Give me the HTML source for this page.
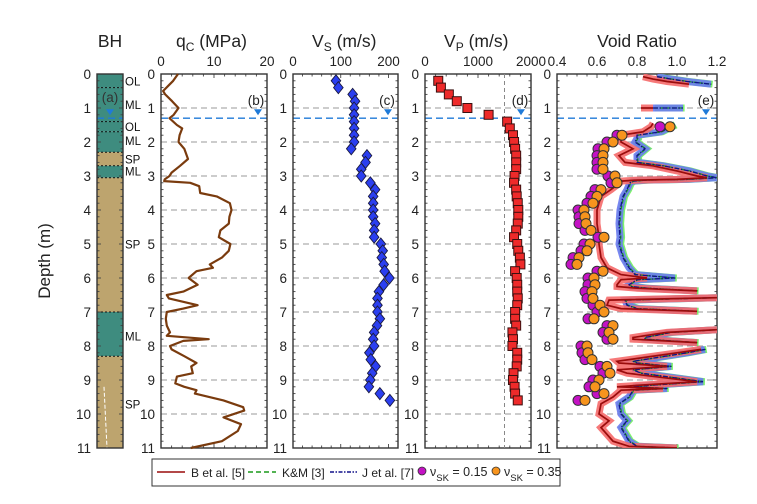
<!DOCTYPE html>
<html><head><meta charset="utf-8"><style>
html,body{margin:0;padding:0;background:#fff;}
svg{display:block;font-family:"Liberation Sans",Arial,sans-serif;}
</style></head><body>
<svg id="chart" width="757" height="504" viewBox="0 0 757 504" xmlns="http://www.w3.org/2000/svg">
<defs>
<clipPath id="clipVoid"><rect x="557" y="74" width="160" height="374"/></clipPath>
</defs>
<g id="root"></g>
</svg>
<script>
// ---------- data ----------
const layerTops = [0, 0.4, 1.4, 1.7, 2.3, 2.7, 3.05, 7.0, 8.3];
const layerBottoms = [0.4, 1.4, 1.7, 2.3, 2.7, 3.05, 7.0, 8.3, 11];
const layerTypes = ["OL", "ML", "OL", "ML", "SP", "ML", "SP", "ML", "SP"];
const layerLabelDepths = [0.2, 0.9, 1.55, 1.95, 2.5, 2.85, 5.0, 7.7, 9.7];

const qcDepths = [0,0.2,0.5,0.6,0.8,1.0,1.2,1.3,1.5,1.6,1.8,2.0,2.2,2.5,2.7,2.9,3.0,3.1,3.15,3.2,3.3,3.5,3.6,3.8,4.0,4.2,4.4,4.6,4.8,5.0,5.2,5.4,5.6,5.7,5.8,6.0,6.2,6.4,6.5,6.6,6.8,6.9,7.0,7.2,7.4,7.6,7.7,7.8,7.85,8.0,8.1,8.3,8.5,8.6,8.8,8.9,9.1,9.2,9.3,9.4,9.6,9.8,9.9,10.1,10.3,10.5,10.8,11.0];
const qcValues = [3.2,2.3,0.4,0.8,2.1,3.3,2.4,1.6,3.0,4.0,3.5,3.3,4.4,5.1,3.6,2.0,1.6,0.7,0.6,5.5,7.2,7.4,10.5,13.0,13.3,12.9,12.8,11.2,10.9,13.1,12.8,11.5,9.2,9.8,6.7,5.2,6.9,4.2,1.1,1.5,6.9,4.2,1.1,0.9,1.1,1.7,1.1,9.0,4.2,1.7,2.0,4.4,6.7,5.7,6.0,3.0,2.7,4.4,6.7,6.4,11.8,15.5,15.7,11.8,15.1,14.5,11.5,5.6];

const vsDepths = [0.2,0.4,0.6,0.8,1.0,1.2,1.4,1.6,1.8,2.0,2.2,2.4,2.6,2.8,3.0,3.2,3.4,3.6,3.8,4.0,4.2,4.4,4.6,4.8,5.0,5.2,5.4,5.6,5.8,6.0,6.2,6.4,6.6,6.8,7.0,7.2,7.4,7.6,7.8,8.0,8.2,8.4,8.6,8.8,9.0,9.2,9.4,9.6];
const vsValues = [90,95,125,130,128,128,128,128,128,128,122,155,152,143,143,162,172,168,168,168,168,172,170,170,184,188,186,190,192,202,190,180,177,177,177,182,176,170,168,170,160,163,173,166,162,159,182,203];

const vpDepths = vsDepths;
const vpValues = [250,300,450,600,800,1200,1550,1600,1660,1680,1700,1720,1720,1720,1690,1680,1720,1730,1750,1760,1760,1750,1720,1680,1740,1760,1790,1800,1700,1730,1740,1740,1750,1740,1700,1700,1720,1650,1660,1650,1740,1740,1730,1670,1660,1690,1700,1750];

const voidDepths = [0.08,0.15,0.22,0.3,null,1.0,1.0,null,1.45,1.55,1.7,1.8,1.9,2.0,2.2,2.4,2.6,2.7,2.85,3.0,3.05,3.1,3.12,3.15,3.2,3.4,3.6,4.0,4.4,4.8,5.0,5.4,5.7,5.9,6.0,6.05,6.2,6.25,6.3,6.38,null,6.58,6.65,6.8,6.9,6.98,null,7.52,7.6,7.75,7.8,7.9,null,8.1,8.2,8.45,8.5,8.6,8.7,8.8,9.05,9.15,9.2,9.25,9.3,9.5,9.7,10.0,10.2,10.4,10.8,10.95,11.0];
const voidB = [0.83,0.88,0.95,1.06,null,0.82,0.88,null,0.88,0.87,0.83,0.72,0.72,0.72,0.78,0.71,0.74,0.88,1.0,1.1,1.15,1.0,0.80,0.72,0.715,0.67,0.62,0.60,0.60,0.61,0.61,0.62,0.65,0.72,0.85,0.72,0.70,0.70,0.80,1.10,null,1.2,0.66,0.65,0.72,1.10,null,1.2,0.95,0.78,0.78,1.10,null,1.12,1.0,0.70,0.71,0.95,0.70,0.75,1.10,0.82,0.70,0.93,0.72,0.68,0.62,0.61,0.66,0.62,0.68,0.76,1.0];
const voidJ = [0.90,0.97,1.05,1.17,null,0.88,1.03,null,0.96,0.97,0.92,0.80,0.80,0.79,0.84,0.80,0.80,0.93,1.06,1.15,1.2,1.05,0.85,0.78,0.765,0.75,0.73,0.715,0.71,0.715,0.71,0.73,0.76,0.79,0.99,0.80,0.76,0.77,0.85,1.10,null,1.2,0.74,0.75,0.80,1.10,null,1.2,0.97,0.84,0.84,1.10,null,1.14,1.05,0.78,0.80,0.97,0.78,0.82,1.13,0.88,0.78,0.95,0.78,0.76,0.71,0.72,0.75,0.72,0.76,0.80,1.0];

const dotDepths = [1.55,1.8,2.0,2.2,2.4,2.6,2.8,3.0,3.2,3.4,3.6,3.8,4.0,4.2,4.4,4.6,4.8,5.0,5.2,5.4,5.6,5.8,6.0,6.2,6.4,6.6,6.8,7.0,7.2,7.4,7.6,7.8,8.0,8.2,8.4,8.6,8.8,9.0,9.2,9.4,9.6];
const dotNu15 = [0.915,0.70,0.65,0.605,0.60,0.60,0.60,0.655,0.67,0.59,0.57,0.55,0.505,0.51,0.51,0.54,0.605,0.535,0.52,0.48,0.47,0.60,0.555,0.555,0.54,0.55,0.58,0.60,0.555,0.65,0.63,0.65,0.52,0.525,0.54,0.615,0.63,0.58,0.56,0.60,0.505];
const dotNu35 = [0.965,0.725,0.68,0.635,0.63,0.63,0.63,0.69,0.70,0.62,0.60,0.58,0.535,0.54,0.545,0.57,0.635,0.565,0.55,0.51,0.50,0.63,0.585,0.59,0.575,0.58,0.615,0.635,0.585,0.68,0.66,0.68,0.55,0.555,0.575,0.65,0.665,0.61,0.59,0.635,0.54];

const waterDepth = 1.3;
const qcTicks = [0,10,20];
const vsTicks = [0,100,200];
const vpTicks = [0,1000,2000];
const voidTicks = [0.4,0.6,0.8,1.0,1.2];
const depthTicks = [0,1,2,3,4,5,6,7,8,9,10,11];

// ---------- helpers ----------
const NS = "http://www.w3.org/2000/svg";
const root = document.getElementById("root");
function mk(tag, attrs, parent, name, inter) {
  const el = document.createElementNS(NS, tag);
  for (const k in attrs) el.setAttribute(k, attrs[k]);
  
  
  (parent || root).appendChild(el);
  return el;
}
function txt(x, y, s, attrs, name, parent) {
  const t = mk("text", Object.assign({x: x, y: y, fill: "#222", "font-size": 13}, attrs || {}), parent, name, false);
  t.textContent = s;
  return t;
}
const Y = d => 74 + d * 34;
const yTop = 74, yBot = 448;
function lin(d0, d1, r0, r1) { return v => r0 + (v - d0) / (d1 - d0) * (r1 - r0); }

const panels = {
  bh: {x0: 97, x1: 123},
  qc: {x0: 161, x1: 267, s: lin(0, 20, 161, 267), ticks: qcTicks, minor: 2, dmin: 0, dmax: 20},
  vs: {x0: 293, x1: 398, s: lin(0, 220, 293, 398), ticks: vsTicks, minor: 20, dmin: 0, dmax: 220},
  vp: {x0: 425, x1: 531, s: lin(0, 2000, 425, 531), ticks: vpTicks, minor: 200, dmin: 0, dmax: 2000},
  vr: {x0: 557, x1: 717, s: lin(0.4, 1.2, 557, 717), ticks: voidTicks, minor: 0.05, dmin: 0.4, dmax: 1.2}
};

function frame(key, p) {
  const g = mk("g", {}, root, key + "-axes", false);
  for (let d = 0; d <= 11.001; d += 0.2) {
    const y = Y(d);
    const major = Math.abs(d - Math.round(d)) < 1e-6;
    const L = major ? 4 : 2.5;
    mk("line", {x1: p.x0, x2: p.x0 + L, y1: y, y2: y, stroke: "#444", "stroke-width": 0.9}, g, "depth-tick", false);
    mk("line", {x1: p.x1, x2: p.x1 - L, y1: y, y2: y, stroke: "#444", "stroke-width": 0.9}, g, "depth-tick", false);
  }
  depthTicks.forEach(d => {
    txt(p.x0 - 6, Y(d) + 5, String(d), {"text-anchor": "end", "font-size": 13.5}, "depth-tick-label", g);
    if (key !== "bh" && d > 0 && d < 11) {
      mk("line", {x1: p.x0, x2: p.x1, y1: Y(d), y2: Y(d), stroke: "#9a9a9a", "stroke-width": 1, "stroke-dasharray": "6,4"}, g, "depth-gridline", false);
    }
  });
  if (p.s) {
    for (let v = p.dmin; v <= p.dmax + 1e-6; v += p.minor) {
      const x = p.s(v);
      const isMajor = p.ticks.some(t => Math.abs(t - v) < 1e-6);
      mk("line", {x1: x, x2: x, y1: yTop, y2: yTop + (isMajor ? 4 : 2.5), stroke: "#444", "stroke-width": 0.9}, g, "x-tick", false);
      mk("line", {x1: x, x2: x, y1: yBot, y2: yBot - (isMajor ? 4 : 2.5), stroke: "#444", "stroke-width": 0.9}, g, "x-tick", false);
    }
    p.ticks.forEach(t => {
      let s = (key === "vr") ? t.toFixed(1) : String(t);
      txt(p.s(t), 66, s, {"text-anchor": "middle", "font-size": 13.5}, "x-tick-label", g);
    });
  }
  mk("line", {x1: p.x0, x2: p.x1, y1: Y(waterDepth), y2: Y(waterDepth), stroke: "#1f7ad8", "stroke-width": 1.3, "stroke-dasharray": "7,4"}, g, "water-table-line", false);
  return g;
}

// ---------- BH column ----------
for (let i = 0; i < layerTypes.length; i++) {
  const fill = layerTypes[i] === "SP" ? "#bda46e" : "#3e8c7f";
  mk("rect", {x: 97, y: Y(layerTops[i]), width: 26, height: Y(layerBottoms[i]) - Y(layerTops[i]), fill: fill}, root, "soil-layer-" + layerTypes[i].toLowerCase(), false);
  if (i > 0) mk("line", {x1: 97, x2: 123, y1: Y(layerTops[i]), y2: Y(layerTops[i]), stroke: "#111", "stroke-width": 1, "stroke-dasharray": "2,2"}, root, "layer-boundary", false);
  txt(125, Y(layerLabelDepths[i]) + 4.5, layerTypes[i], {"font-size": 11.5, fill: "#111"}, "soil-label");
}
mk("line", {x1: 104, x2: 107, y1: Y(9.2), y2: Y(11), stroke: "#fff", "stroke-width": 1, "stroke-dasharray": "4,2"}, root, "bh-white-trace", false);
frame("bh", panels.bh);

["qc", "vs", "vp", "vr"].forEach(k => frame(k, panels[k]));
Object.keys(panels).forEach(k => {
  const p = panels[k];
  mk("rect", {x: p.x0, y: yTop, width: p.x1 - p.x0, height: yBot - yTop, fill: "none", stroke: "#333", "stroke-width": 1.4}, root, k + "-panel-frame", false);
});

const letters = {bh: "(a)", qc: "(b)", vs: "(c)", vp: "(d)", vr: "(e)"};
const letterX = {bh: 110, qc: 256, vs: 387, vp: 520, vr: 706};
const triX = {bh: 110, qc: 258, vs: 388, vp: 521, vr: 706};
Object.keys(letters).forEach(k => {
  txt(letterX[k], k === "bh" ? 102 : 105, letters[k], {"text-anchor": "middle", "font-size": 13.5, fill: k === "bh" ? "#333" : "#222"}, "panel-label-" + k);
  const x = triX[k], y = Y(waterDepth) - 3;
  mk("path", {d: `M${x-4},${y-6} L${x+4},${y-6} L${x},${y} Z`, fill: "#1f7ad8"}, root, "water-table-marker", false);
});

// ---------- qc line ----------
(function () {
  const s = panels.qc.s;
  const pts = qcDepths.map((d, i) => s(qcValues[i]).toFixed(1) + "," + Y(d).toFixed(1)).join(" ");
  mk("polyline", {points: pts, fill: "none", stroke: "#7a3b0e", "stroke-width": 2.2, "stroke-linejoin": "round"}, root, "qc-profile-line", false);
})();

// ---------- Vs diamonds ----------
vsDepths.forEach((d, i) => {
  const x = panels.vs.s(vsValues[i]), y = Y(d), r = 6;
  mk("path", {d: `M${x},${y-r} L${x+r*0.8},${y} L${x},${y+r} L${x-r*0.8},${y} Z`, fill: "#2b3ff0", stroke: "#1a1a40", "stroke-width": 0.9}, root, "vs-point", false);
});

// ---------- Vp squares ----------
mk("line", {x1: panels.vp.s(1500), x2: panels.vp.s(1500), y1: yTop, y2: yBot, stroke: "#888", "stroke-width": 1, "stroke-dasharray": "4,3"}, root, "vp-reference-line", false);
vpDepths.forEach((d, i) => {
  const x = panels.vp.s(vpValues[i]), y = Y(d);
  mk("rect", {x: x - 4.5, y: y - 4.5, width: 9, height: 9, fill: "#ee2a2a", stroke: "#3a1010", "stroke-width": 1}, root, "vp-point", false);
});

// ---------- Void ratio ----------
(function () {
  const s = panels.vr.s;
  const g = mk("g", {"clip-path": "url(#clipVoid)"}, root, "void-ratio-series", false);
  function segs(vals, off) {
    const out = []; let cur = [];
    voidDepths.forEach((d, i) => {
      if (d === null || vals[i] === null) { if (cur.length) out.push(cur); cur = []; return; }
      cur.push(s(vals[i] + off).toFixed(1) + "," + Y(d).toFixed(1));
    });
    if (cur.length) out.push(cur);
    return out;
  }
  segs(voidJ, 0.008).forEach(p => mk("polyline", {points: p.join(" "), fill: "none", stroke: "#66ee55", "stroke-width": 7, "stroke-linejoin": "miter", opacity: 0.85}, g, "km-band", false));
  segs(voidJ, 0).forEach(p => mk("polyline", {points: p.join(" "), fill: "none", stroke: "#6a7af0", "stroke-width": 7, "stroke-linejoin": "miter", opacity: 0.9}, g, "j-band", false));
  segs(voidB, 0).forEach(p => mk("polyline", {points: p.join(" "), fill: "none", stroke: "#f56a6a", "stroke-width": 7, "stroke-linejoin": "miter", opacity: 0.9}, g, "b-band", false));
  segs(voidJ, 0.004).forEach(p => mk("polyline", {points: p.join(" "), fill: "none", stroke: "#1a9a1a", "stroke-width": 1.3, "stroke-dasharray": "4,2"}, g, "km-line", false));
  segs(voidJ, 0).forEach(p => mk("polyline", {points: p.join(" "), fill: "none", stroke: "#10108a", "stroke-width": 1.3, "stroke-dasharray": "5,1.5,1.5,1.5"}, g, "j-line", false));
  segs(voidB, 0).forEach(p => mk("polyline", {points: p.join(" "), fill: "none", stroke: "#9a0c0c", "stroke-width": 1.7}, g, "b-line", false));
  dotDepths.forEach((d, i) => {
    mk("circle", {cx: s(dotNu15[i]), cy: Y(d), r: 5, fill: "#c412c4", stroke: "#333", "stroke-width": 1}, g, "nu-015-point", false);
  });
  dotDepths.forEach((d, i) => {
    mk("circle", {cx: s(dotNu35[i]), cy: Y(d), r: 5, fill: "#f7941d", stroke: "#333", "stroke-width": 1}, g, "nu-035-point", false);
  });
})();

// ---------- titles ----------
txt(110, 47, "BH", {"text-anchor": "middle", "font-size": 17.5}, "bh-title");
(function () {
  const t = txt(176, 47, "q", {"font-size": 17.5}, "qc-title");
  const s1 = document.createElementNS(NS, "tspan"); s1.setAttribute("font-size", "12"); s1.setAttribute("dy", "4"); s1.textContent = "C"; t.appendChild(s1);
  const s2 = document.createElementNS(NS, "tspan"); s2.setAttribute("dy", "-4"); s2.textContent = " (MPa)"; t.appendChild(s2);
  const v = txt(312, 47, "V", {"font-size": 17.5}, "vs-title");
  const a1 = document.createElementNS(NS, "tspan"); a1.setAttribute("font-size", "12"); a1.setAttribute("dy", "4"); a1.textContent = "S"; v.appendChild(a1);
  const a2 = document.createElementNS(NS, "tspan"); a2.setAttribute("dy", "-4"); a2.textContent = " (m/s)"; v.appendChild(a2);
  const p = txt(444, 47, "V", {"font-size": 17.5}, "vp-title");
  const b1 = document.createElementNS(NS, "tspan"); b1.setAttribute("font-size", "12"); b1.setAttribute("dy", "4"); b1.textContent = "P"; p.appendChild(b1);
  const b2 = document.createElementNS(NS, "tspan"); b2.setAttribute("dy", "-4"); b2.textContent = " (m/s)"; p.appendChild(b2);
})();
txt(637, 47, "Void Ratio", {"text-anchor": "middle", "font-size": 17.5}, "void-ratio-title");
txt(0, 0, "Depth (m)", {"text-anchor": "middle", "font-size": 17, transform: "translate(50,261) rotate(-90)"}, "y-axis-title");

// ---------- legend ----------
(function () {
  const g = mk("g", {}, root, "legend", false);
  mk("rect", {x: 152, y: 459, width: 408, height: 27, fill: "#fff", stroke: "#333", "stroke-width": 1}, g, "legend-box", false);
  mk("line", {x1: 157, x2: 185, y1: 472, y2: 472, stroke: "#9a0c0c", "stroke-width": 1.6}, g, "legend-b-swatch", false);
  txt(191, 477, "B et al. [5]", {"font-size": 12}, "legend-b-label", g);
  mk("line", {x1: 248, x2: 276, y1: 472, y2: 472, stroke: "#1a9a1a", "stroke-width": 1.6, "stroke-dasharray": "5,3"}, g, "legend-km-swatch", false);
  txt(282, 477, "K&M [3]", {"font-size": 12}, "legend-km-label", g);
  mk("line", {x1: 330, x2: 357, y1: 472, y2: 472, stroke: "#10108a", "stroke-width": 1.4, "stroke-dasharray": "4,1.5,1.5,1.5"}, g, "legend-j-swatch", false);
  txt(362, 477, "J et al. [7]", {"font-size": 12}, "legend-j-label", g);
  mk("circle", {cx: 422, cy: 471, r: 4, fill: "#c412c4", stroke: "#333", "stroke-width": 0.8}, g, "legend-nu015-swatch", false);
  const t1 = txt(430, 476, "ν", {"font-size": 12.5}, "legend-nu015-label", g);
  const u1 = document.createElementNS(NS, "tspan"); u1.setAttribute("font-size", "9.5"); u1.setAttribute("dy", "5"); u1.textContent = "SK"; t1.appendChild(u1);
  const u2 = document.createElementNS(NS, "tspan"); u2.setAttribute("dy", "-5"); u2.textContent = " = 0.15"; t1.appendChild(u2);
  mk("circle", {cx: 496, cy: 471, r: 4, fill: "#f7941d", stroke: "#333", "stroke-width": 0.8}, g, "legend-nu035-swatch", false);
  const t2 = txt(504, 476, "ν", {"font-size": 12.5}, "legend-nu035-label", g);
  const w1 = document.createElementNS(NS, "tspan"); w1.setAttribute("font-size", "9.5"); w1.setAttribute("dy", "5"); w1.textContent = "SK"; t2.appendChild(w1);
  const w2 = document.createElementNS(NS, "tspan"); w2.setAttribute("dy", "-5"); w2.textContent = " = 0.35"; t2.appendChild(w2);
})();
</script>
</body></html>
